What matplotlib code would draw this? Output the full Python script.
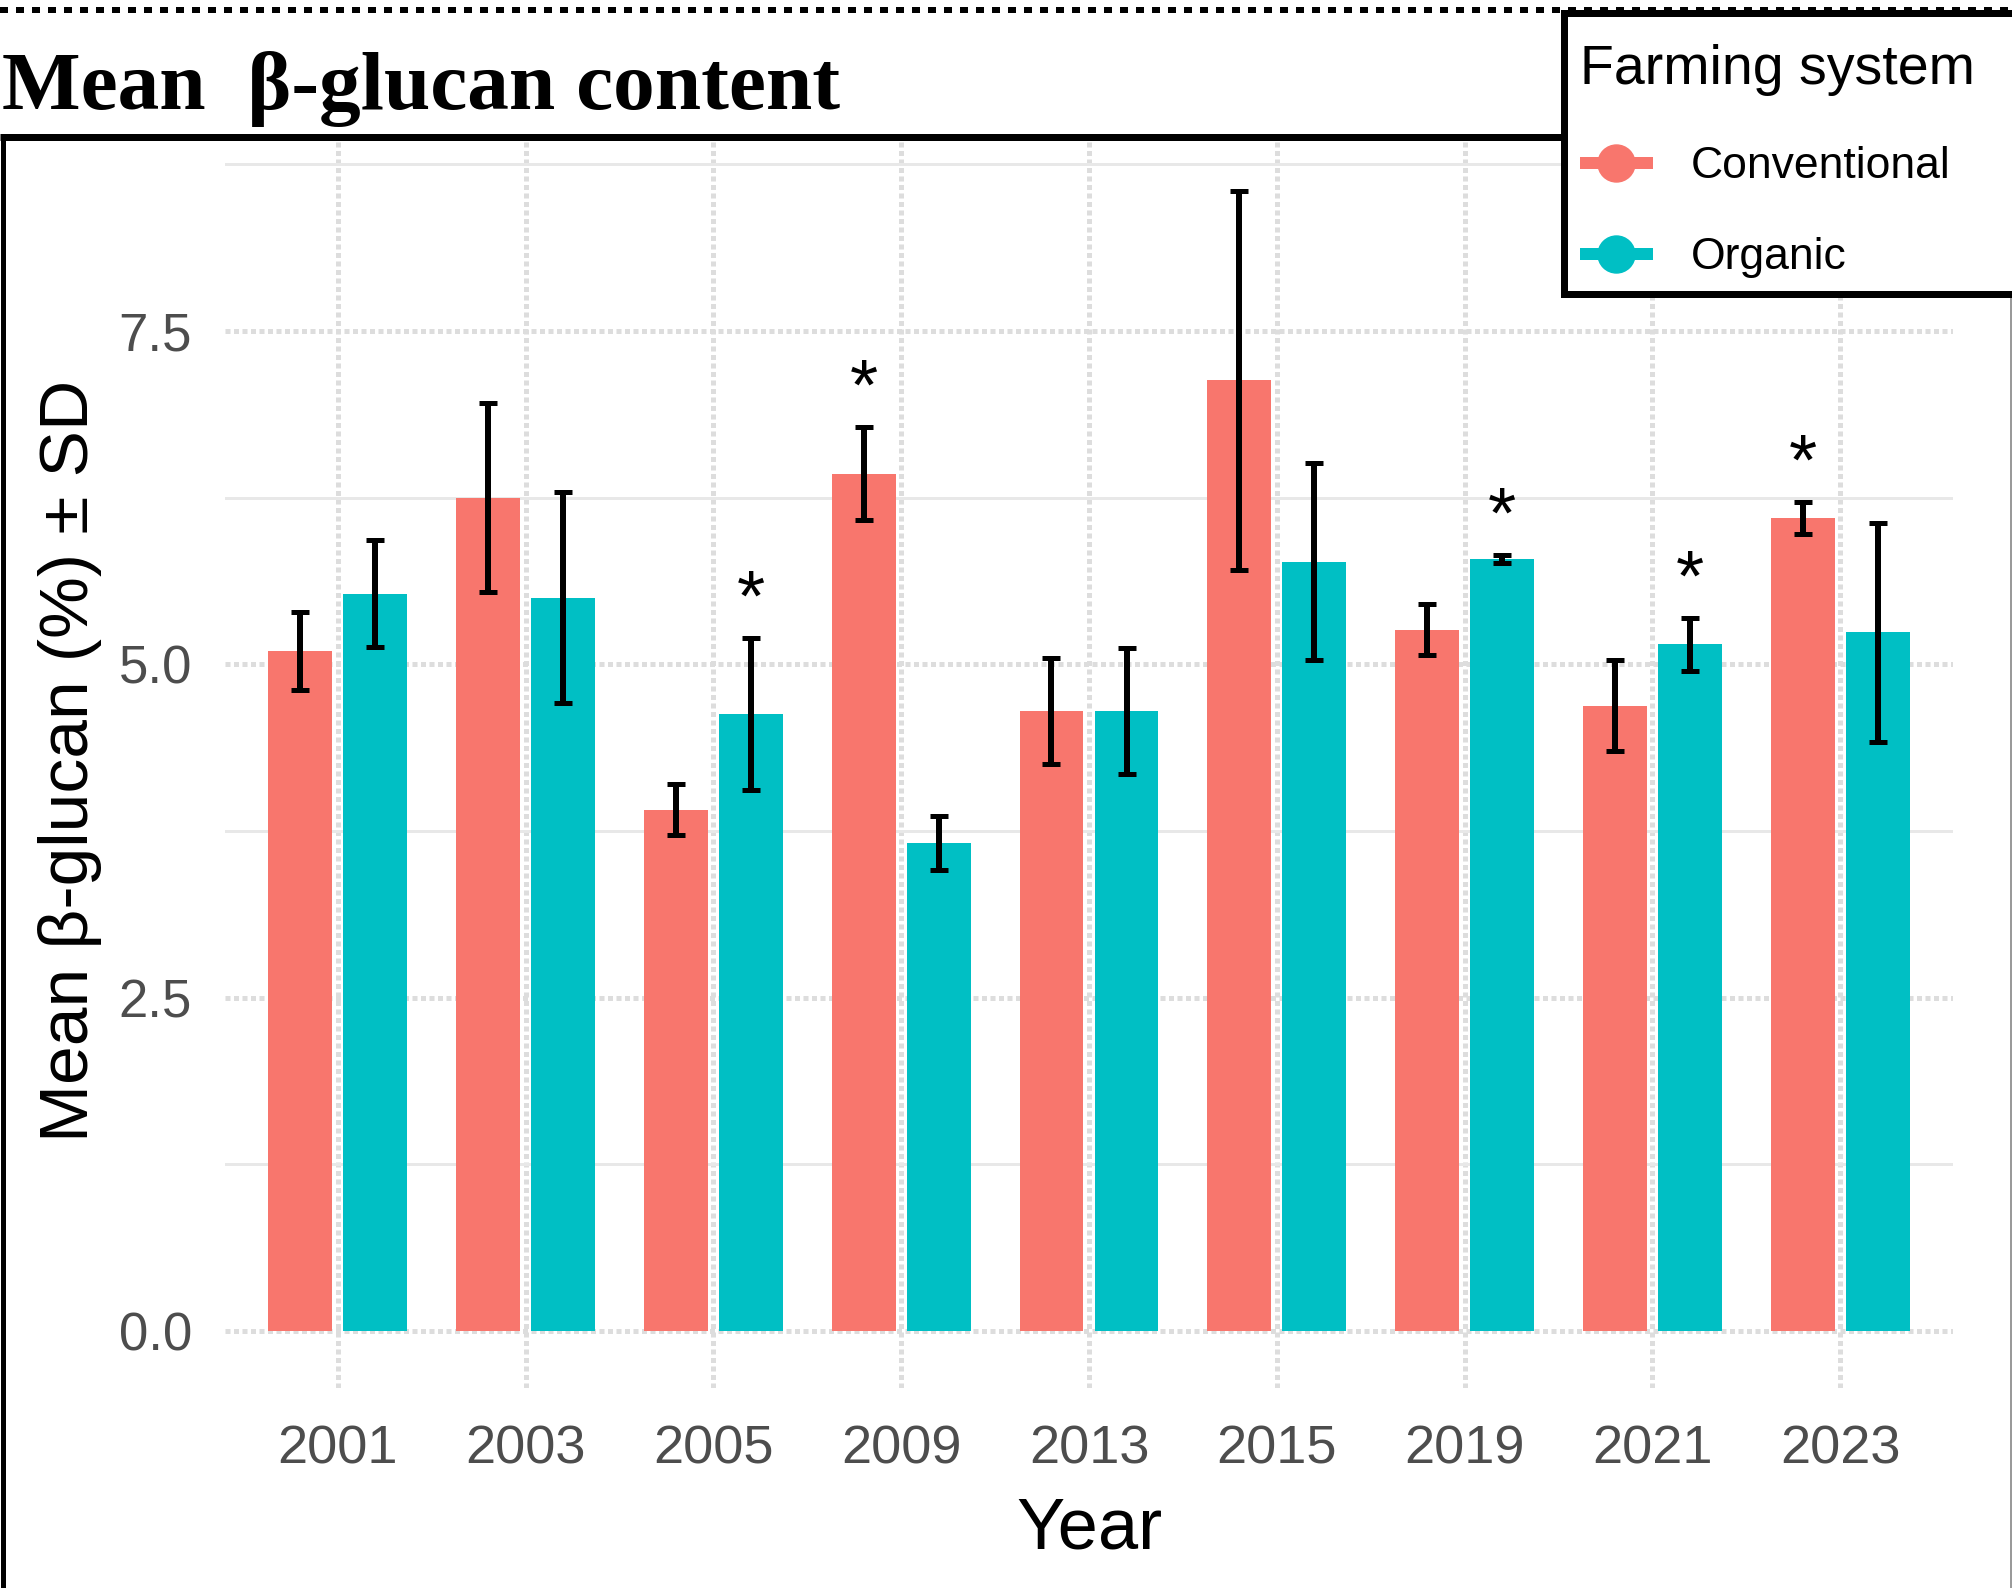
import numpy as np
import matplotlib
matplotlib.use("Agg")
import matplotlib.pyplot as plt
from matplotlib.lines import Line2D
from matplotlib.patches import Rectangle

plt.rcParams['font.family'] = ['Liberation Sans', 'DejaVu Sans']

# ---------------- data ----------------
years = ['2001', '2003', '2005', '2009', '2013', '2015', '2019', '2021', '2023']
systems = ['Conventional', 'Organic']
conv_mean = [5.10, 6.25, 3.91, 6.43, 4.65, 7.13, 5.26, 4.69, 6.10]
conv_sd = [0.29, 0.71, 0.19, 0.35, 0.40, 1.42, 0.19, 0.34, 0.12]
org_mean = [5.53, 5.50, 4.63, 3.66, 4.65, 5.77, 5.79, 5.15, 5.24]
org_sd = [0.40, 0.79, 0.57, 0.20, 0.47, 0.74, 0.03, 0.20, 0.82]
conv_star = [False, False, False, True, False, False, False, False, True]
org_star = [False, False, True, False, False, False, True, True, False]
yticks = [0.0, 2.5, 5.0, 7.5]
ytick_labels = ['0.0', '2.5', '5.0', '7.5']

colors = ['#F8766D', '#00BFC4']

W, H = 2012, 1588
DPI = 100
fig = plt.figure(figsize=(W / DPI, H / DPI), dpi=DPI)
PX = 72.0 / DPI  # points per pixel

# axes placement (pixels)
ax_l, ax_r, ax_t, ax_b = 225, 1953, 134, 1388
ax = fig.add_axes([ax_l / W, 1 - ax_b / H, (ax_r - ax_l) / W, (ax_b - ax_t) / H])

x = np.arange(1, len(years) + 1)
off = 0.2
bw = 0.34
series = [(conv_mean, conv_sd, conv_star), (org_mean, org_sd, org_star)]
for k, (m, s, st) in enumerate(series):
    xs = x + (-off if k == 0 else off)
    ax.bar(xs, m, width=bw, color=colors[k], zorder=2)
    ax.errorbar(xs, m, yerr=s, fmt='none', ecolor='black', elinewidth=6 * PX,
                capsize=9 * PX, capthick=5 * PX, zorder=3)
    for xi, mi, si, flag in zip(xs, m, s, st):
        if flag:
            ax.text(xi, mi + si + 0.27, '*', ha='center', va='center',
                    fontsize=52, color='black', zorder=4)

top = max(max(np.array(conv_mean) + np.array(conv_sd)), max(np.array(org_mean) + np.array(org_sd)))
ax.set_ylim(-0.05 * top, 1.05 * top)
ax.set_xlim(0.4, len(years) + 0.6)
ax.set_xticks(x)
ax.set_xticklabels(years)
ax.set_yticks(yticks)
ax.set_yticklabels(ytick_labels)
ax.set_yticks([1.25, 3.75, 6.25, 8.75], minor=True)
ax.tick_params(axis='both', which='both', length=0)
ax.tick_params(axis='y', labelsize=38, labelcolor='#4D4D4D', pad=33 * PX)
ax.tick_params(axis='x', labelsize=39, labelcolor='#4D4D4D', pad=36 * PX)
for sp in ax.spines.values():
    sp.set_visible(False)
ax.set_axisbelow(True)
ax.grid(which='major', axis='both', color='#DDDDDD', lw=5 * PX, linestyle=(0, (1.0, 0.7)))
ax.grid(which='minor', axis='y', color='#E8E8E8', lw=3 * PX, linestyle='-')

ax.set_ylabel('Mean β-glucan (%) ± SD', fontsize=50, color='black')
ax.yaxis.label.set_va('center')
ax.yaxis.set_label_coords((70 - ax_l) / (ax_r - ax_l), 0.5)
ax.set_xlabel('Year', fontsize=52, color='black')
ax.xaxis.label.set_va('center')
ax.xaxis.set_label_coords(0.5, (ax_b - 1530) / (ax_b - ax_t))

# title
fig.text(2 / W, 1 - 109 / H, 'Mean  β-glucan content', fontfamily=['Liberation Serif', 'DejaVu Serif'],
         fontweight='bold', fontsize=60, ha='left', va='baseline', color='black')

# decorative frame lines
def fline(x0, x1, y0, y1, lw_px, color='black', **kw):
    fig.add_artist(Line2D([x0 / W, x1 / W], [1 - y0 / H, 1 - y1 / H], transform=fig.transFigure,
                          lw=lw_px * PX, color=color, **kw))

fline(0, W, 10, 10, 6, dashes=(8 / 6, 8 / 6))
fline(0, 1563, 137, 137, 7, solid_capstyle='butt')
fline(2.5, 2.5, 134, H, 5, solid_capstyle='butt')
fline(2011, 2011, 298, H, 2, color='#9A9A9A')

# legend box
fig.add_artist(Rectangle((1563.5 / W, 1 - 294 / H), (2040 - 1563.5) / W, (294 - 13.5) / H,
                         transform=fig.transFigure, facecolor='white', edgecolor='black',
                         lw=7 * PX, zorder=5))
handles = [Line2D([0], [0], color=c, lw=12 * PX, marker='o', markersize=37 * PX,
                  solid_capstyle='butt') for c in colors]
leg = fig.legend(handles, systems, title='Farming system', loc='upper left',
                 bbox_to_anchor=(1580 / W, 1 - 44 / H), frameon=False, fontsize=32,
                 title_fontsize=40, handlelength=1.64, handletextpad=0.86,
                 labelspacing=1.13, borderpad=0, borderaxespad=0, alignment='left')
leg.set_zorder(6)

fig.savefig('out.png', dpi=DPI)
